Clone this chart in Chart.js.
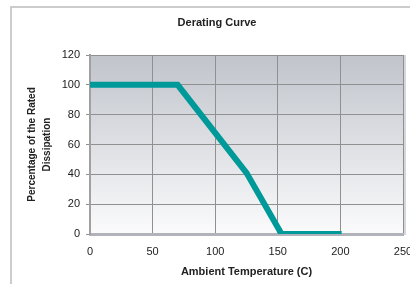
<!DOCTYPE html>
<html>
<head>
<meta charset="utf-8">
<script src="https://cdn.jsdelivr.net/npm/chart.js@4"></script>
<style>
  html, body { margin: 0; padding: 0; background: #fff; }
</style>
</head>
<body>
<canvas id="deratingChart" width="410" height="284"></canvas>
<script>
// Derating curve data
const temps = [0, 70, 125, 153, 201];
const percents = [100, 100, 41, 0, 0];
const xTicks = [0, 50, 100, 150, 200, 250];
const yTicks = [0, 20, 40, 60, 80, 100, 120];

Chart.defaults.font.family = '"Liberation Sans", Arial, sans-serif';
Chart.defaults.color = '#222';

// grey-to-white plot background plus the outer frame lines
const backdrop = {
    id: 'backdrop',
    beforeDraw(chart) {
        const ctx = chart.ctx;
        const a = chart.chartArea;
        ctx.save();
        ctx.strokeStyle = '#cccccc';
        ctx.lineWidth = 2;
        ctx.beginPath();
        ctx.moveTo(11, 284);
        ctx.lineTo(11, 7);
        ctx.lineTo(410, 7);
        ctx.stroke();

        const g = ctx.createLinearGradient(0, a.top, 0, a.bottom);
        g.addColorStop(0, '#c0c4cb');
        g.addColorStop(1, '#fbfbfc');
        ctx.fillStyle = g;
        ctx.fillRect(a.left, a.top, a.right - a.left, a.bottom - a.top);
        // lighter strip on the right side of the plot frame
        ctx.fillStyle = '#d4d7dc';
        ctx.fillRect(a.right, a.top, 3, a.bottom - a.top + 1);
        ctx.restore();
    }
};

const ctx = document.getElementById('deratingChart').getContext('2d');
new Chart(ctx, {
    type: 'line',
    data: {
        datasets: [{
            label: 'Derating',
            data: temps.map((t, i) => ({ x: t, y: percents[i] })),
            borderColor: '#009999',
            borderWidth: 6,
            pointRadius: 0,
            tension: 0,
            fill: false
        }]
    },
    options: {
        responsive: false,
        animation: false,
        layout: {
            padding: { left: 31, right: 7, top: 0, bottom: 0 }
        },
        plugins: {
            legend: { display: false },
            tooltip: { enabled: false },
            title: {
                display: true,
                text: 'Derating Curve',
                font: { size: 11, weight: 'bold' },
                color: '#222',
                padding: { top: 16.4, bottom: 25.4 }
            }
        },
        scales: {
            x: {
                type: 'linear',
                min: 0,
                max: 250,
                afterBuildTicks(scale) {
                    scale.ticks = xTicks.map(v => ({ value: v }));
                },
                afterFit(scale) {
                    scale.height = 50;
                    scale.paddingLeft = 0;
                    scale.paddingRight = 0;
                },
                grid: {
                    color: '#909090',
                    drawTicks: false
                },
                border: { color: '#b0b3ba', width: 3 },
                ticks: {
                    padding: 11,
                    font: { size: 11 },
                    color: '#222'
                },
                title: {
                    display: true,
                    text: 'Ambient Temperature (C)',
                    font: { size: 11, weight: 'bold' },
                    color: '#222',
                    padding: { top: 0, bottom: 5.4 }
                }
            },
            y: {
                min: 0,
                max: 120,
                afterBuildTicks(scale) {
                    scale.ticks = yTicks.map(v => ({ value: v }));
                },
                afterFit(scale) {
                    scale.width = 59;
                    scale.paddingTop = 0;
                    scale.paddingBottom = 0;
                },
                grid: {
                    color: '#909090',
                    tickLength: 4
                },
                border: { color: '#a0a0a0', width: 2 },
                ticks: {
                    padding: 6,
                    font: { size: 11 },
                    color: '#222'
                },
                title: {
                    display: true,
                    text: ['Percentage of the Rated', 'Dissipation'],
                    font: { size: 10, weight: 'bold', lineHeight: 1.5 },
                    color: '#222',
                    padding: { top: -6.5, bottom: 0 }
                }
            }
        }
    },
    plugins: [backdrop]
});
</script>
</body>
</html>
